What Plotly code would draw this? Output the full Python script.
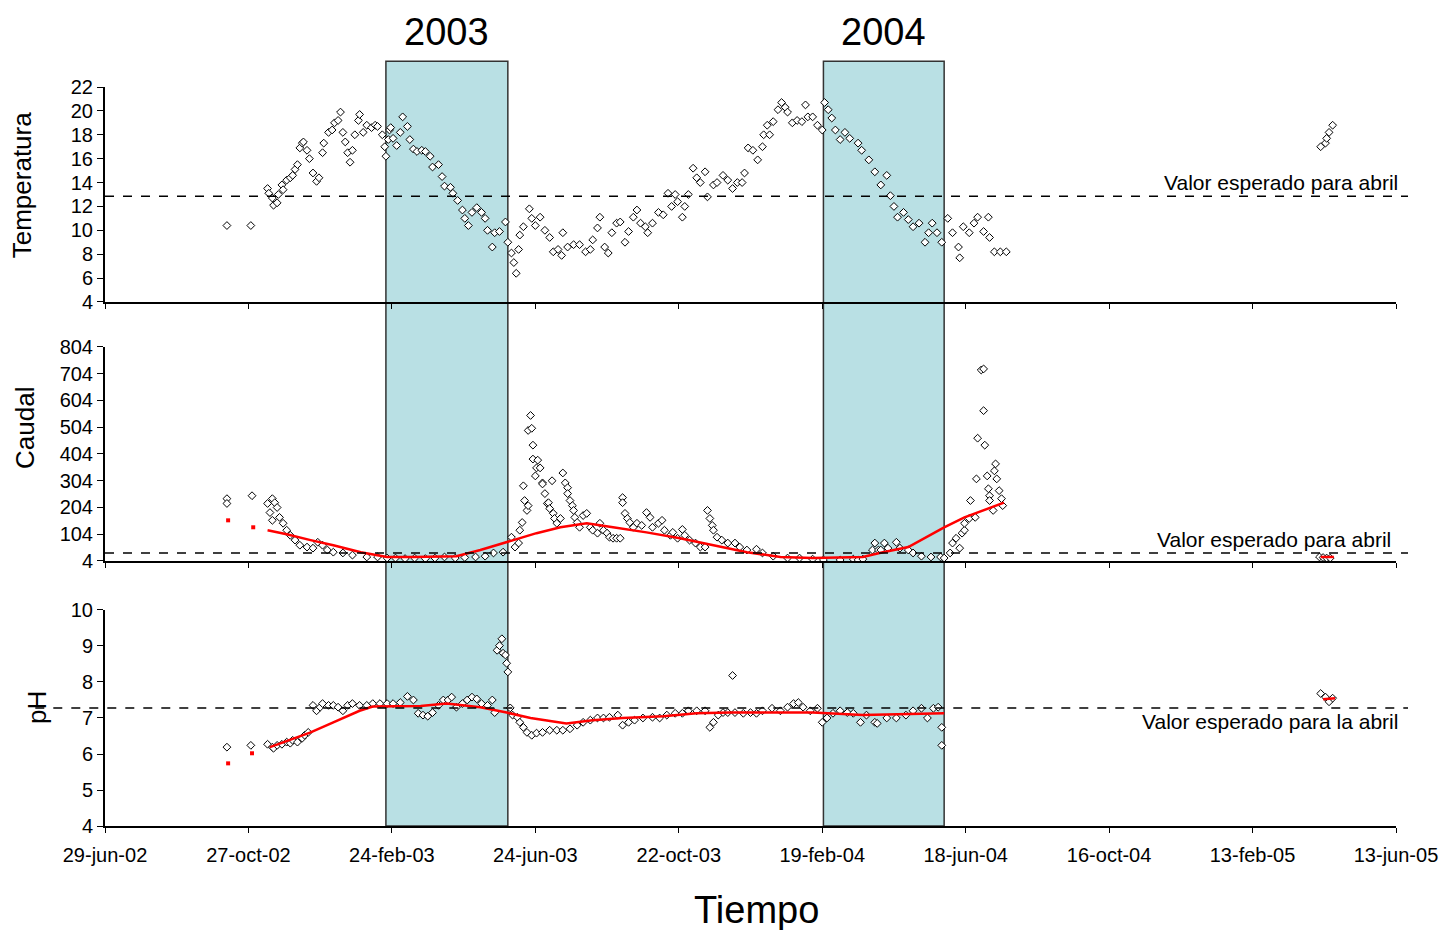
import pandas as pd
import plotly.graph_objects as go

# dates are stored as days after the first tick (29-jun-02)
BASE = "2002-06-29"

TICK_DATES = ["2002-06-29", "2002-10-27", "2003-02-24", "2003-06-24", "2003-10-22",
              "2004-02-19", "2004-06-18", "2004-10-16", "2005-02-13", "2005-06-13"]
TICK_LABELS = ["29-jun-02", "27-oct-02", "24-feb-03", "24-jun-03", "22-oct-03",
               "19-feb-04", "18-jun-04", "16-oct-04", "13-feb-05", "13-jun-05"]

# shaded April campaigns
BOXES = [("2003-02-19", "2003-06-01", "2003"), ("2004-02-20", "2004-05-31", "2004")]

# expected April values
TEMP_REF = 12.85
CAUDAL_REF = 34
PH_REF = 7.28

temp_days = [102, 122, 136, 137, 140, 141, 144, 145, 148, 149, 152, 155, 157, 159, 161, 163, 165, 166,
             169, 171, 174, 177, 179, 182, 183, 187, 190, 192, 195, 197, 199, 201, 203, 205, 207, 209,
             212, 213, 216, 219, 223, 226, 228, 232, 234, 235, 237, 238, 239, 241, 244, 247, 249, 253,
             255, 258, 261, 265, 268, 272, 274, 279, 282, 284, 289, 291, 295, 299, 301, 304, 307, 311,
             315, 318, 320, 324, 326, 330, 335, 337, 340, 342, 344, 346, 347, 350, 355, 357, 360, 364,
             368, 372, 375, 379, 382, 383, 387, 392, 397, 402, 406, 408, 412, 414, 418, 421, 424, 428,
             431, 435, 438, 442, 445, 448, 452, 454, 458, 463, 467, 471, 474, 477, 479, 483, 485, 488,
             492, 495, 498, 502, 504, 509, 512, 517, 521, 525, 529, 533, 535, 538, 542, 546, 550, 551,
             554, 556, 559, 563, 566, 569, 571, 575, 579, 583, 586, 588, 592, 596, 600, 602, 605, 608,
             611, 615, 619, 623, 630, 633, 639, 644, 649, 654, 657, 660, 663, 668, 672, 676, 681, 686,
             689, 692, 696, 700, 705, 709, 714, 715, 718, 723, 727, 730, 735, 739, 740, 744, 749, 754,
             1017, 1021, 1022, 1024, 1027]
temp_vals = [10.4, 10.4, 13.5, 13.1, 12.7, 12.1, 12.3, 13.0, 13.8, 13.4, 14.2, 14.4, 14.6, 15.1, 15.5,
             16.9, 17.3, 17.4, 16.7, 16.0, 14.8, 14.1, 14.4, 16.5, 17.3, 18.2, 18.4, 19.0, 19.2, 19.9,
             18.2, 17.4, 16.5, 15.7, 16.7, 18.0, 19.2, 19.7, 18.2, 18.8, 18.6, 18.8, 18.7, 18.0, 17.0,
             16.2, 17.6, 18.4, 18.6, 17.7, 17.1, 18.2, 19.5, 18.7, 17.6, 16.8, 16.6, 16.7, 16.6, 16.2,
             15.3, 15.5, 14.5, 13.7, 13.6, 13.1, 12.5, 11.7, 11.0, 10.4, 11.5, 11.9, 11.5, 11.0, 10.0,
             8.6, 9.8, 9.9, 10.7, 9.0, 8.1, 7.3, 6.4, 8.4, 9.6, 10.3, 11.8, 11.0, 10.4, 11.1, 10.0, 9.4,
             8.2, 8.4, 7.9, 9.8, 8.6, 8.8, 8.8, 8.2, 8.4, 9.2, 10.2, 11.1, 8.6, 8.1, 9.8, 10.6, 10.7,
             9.0, 9.9, 11.1, 11.7, 10.6, 10.3, 9.8, 10.6, 11.5, 11.3, 13.1, 12.0, 13.0, 12.4, 11.1,
             12.0, 13.0, 15.2, 14.4, 14.0, 14.9, 12.8, 13.8, 14.0, 14.6, 14.2, 13.5, 14.0, 14.0, 14.8,
             16.9, 16.7, 15.9, 17.0, 18.0, 18.8, 18.0, 19.1, 20.1, 20.7, 20.3, 19.9, 19.0, 19.2, 19.1,
             20.5, 19.5, 19.5, 18.8, 18.4, 20.7, 20.1, 19.4, 18.4, 17.6, 18.2, 17.7, 17.3, 16.7, 15.9,
             14.9, 13.8, 14.6, 12.9, 12.0, 11.1, 11.5, 10.9, 10.3, 10.6, 9.0, 9.8, 10.6, 9.8, 9.0, 11.0,
             9.8, 8.6, 7.7, 10.3, 9.8, 10.6, 11.1, 9.9, 11.1, 9.4, 8.2, 8.2, 8.2,
             17.0, 17.3, 17.7, 18.2, 18.8]

caudal_days = [102, 102, 123, 136, 140, 142, 138, 140, 144, 146, 149, 152, 155, 159, 163, 169, 174, 178,
               182, 186, 191, 199, 207, 219, 228, 236, 243, 251, 259, 268, 276, 284, 293, 301, 310, 318,
               325, 333, 340, 343, 346, 347, 349, 350, 351, 353, 354, 354, 356, 357, 358, 358, 360, 361,
               362, 364, 366, 366, 368, 370, 371, 372, 374, 375, 376, 378, 381, 383, 385, 387, 387, 389,
               391, 392, 393, 395, 397, 400, 403, 406, 408, 412, 414, 417, 420, 422, 425, 428, 431, 433,
               433, 435, 437, 439, 442, 445, 449, 453, 456, 458, 463, 466, 468, 473, 475, 479, 483, 485,
               489, 494, 498, 502, 504, 506, 508, 509, 512, 516, 521, 527, 531, 537, 545, 550, 559, 571,
               581, 592, 601, 615, 626, 630, 634, 642, 644, 647, 649, 652, 655, 662, 665, 672, 676, 683,
               691, 699, 702, 707, 709, 712, 715, 717, 719, 719, 723, 724, 728, 729, 730, 733, 735, 735,
               736, 738, 739, 740, 740, 743, 744, 745, 746, 748, 750, 751,
               1016, 1019, 1022, 1025]
caudal_vals = [237, 219, 248, 219, 237, 222, 185, 156, 204, 167, 145, 119, 100, 82, 63, 56, 52, 74,
               63, 45, 37, 34, 26, 19, 19, 15, 15, 13, 15, 13, 15, 19, 15, 17, 19, 22,
               34, 37, 93, 56, 71, 119, 148, 285, 230, 193, 211, 492, 548, 500, 437, 385, 322, 352,
               381, 352, 296, 292, 256, 219, 222, 200, 304, 182, 163, 145, 163, 333, 296, 278, 256, 230,
               211, 193, 167, 148, 130, 174, 182, 130, 119, 108, 145, 119, 108, 93, 89, 89, 89, 241,
               222, 182, 163, 148, 130, 145, 137, 185, 167, 130, 145, 156, 119, 100, 111, 89, 122, 100,
               82, 71, 56, 56, 193, 163, 137, 119, 93, 82, 71, 71, 56, 45, 48, 34, 22, 15,
               15, 11, 8, 8, 11, 8, 11, 45, 71, 45, 45, 71, 52, 74, 52, 45, 34, 22,
               19, 19, 15, 34, 71, 89, 52, 108, 119, 145, 163, 230, 167, 311, 463, 718, 722, 566,
               437, 322, 274, 248, 230, 193, 341, 367, 311, 267, 237, 211,
               19, 17, 15, 15]

# red smoothed flow curve
caudal_fit_days = [136, 152, 172, 191, 214, 236, 258, 294, 314, 336, 361, 381, 403, 425, 453, 481,
                   509, 537, 565, 592, 634, 648, 672, 702, 719, 752]
caudal_fit_vals = [119, 104, 82, 63, 37, 19, 19, 22, 45, 74, 108, 130, 145, 130, 111, 89,
                   63, 37, 19, 15, 19, 34, 56, 130, 167, 222]
caudal_fit_dot_days = [103, 124]
caudal_fit_dot_vals = [156, 130]
caudal_fit_late_days = [1017, 1028]
caudal_fit_late_vals = [19, 19]

ph_days = [102, 122, 136, 140, 141, 144, 148, 152, 155, 157, 161, 165, 167, 170, 174, 177, 180, 182,
           187, 191, 195, 199, 203, 207, 213, 219, 224, 230, 236, 241, 247, 253, 258, 262, 266, 270,
           274, 279, 283, 287, 290, 294, 299, 303, 307, 311, 315, 320, 324, 326, 328, 330, 332, 333,
           335, 336, 337, 339, 341, 345, 347, 350, 353, 357, 361, 366, 372, 378, 383, 389, 395, 400,
           406, 412, 417, 422, 429, 433, 438, 443, 450, 458, 464, 470, 477, 483, 488, 495, 502, 506,
           509, 513, 517, 521, 525, 527, 534, 540, 545, 550, 558, 565, 571, 576, 580, 584, 590, 596,
           600, 604, 609, 615, 621, 626, 632, 637, 644, 646, 654, 662, 670, 676, 683, 688, 693, 697,
           700, 700, 1017, 1021, 1024, 1027]
ph_vals = [6.19, 6.24, 6.27, 6.19, 6.16, 6.24, 6.27, 6.33, 6.30, 6.38, 6.33, 6.44, 6.52, 6.60, 7.35,
           7.20, 7.30, 7.40, 7.35, 7.35, 7.30, 7.20, 7.35, 7.40, 7.35, 7.35, 7.40, 7.40, 7.40, 7.40,
           7.43, 7.60, 7.50, 7.13, 7.08, 7.05, 7.15, 7.35, 7.50, 7.50, 7.58, 7.30, 7.40, 7.50, 7.58,
           7.53, 7.40, 7.35, 7.50, 7.15, 8.88, 9.01, 9.20, 8.80, 8.75, 8.52, 8.28, 7.28, 7.08, 7.02,
           6.88, 6.74, 6.60, 6.52, 6.58, 6.60, 6.66, 6.66, 6.66, 6.70, 6.80, 6.88, 6.94, 7.00, 7.00,
           7.02, 7.08, 6.80, 6.88, 6.94, 7.00, 7.02, 7.00, 7.08, 7.13, 7.13, 7.20, 7.20, 7.20, 6.74,
           6.88, 7.08, 7.15, 7.15, 8.18, 7.15, 7.13, 7.15, 7.13, 7.20, 7.27, 7.20, 7.30, 7.40, 7.43,
           7.30, 7.20, 7.27, 6.88, 7.00, 7.13, 7.20, 7.15, 7.13, 6.88, 7.08, 6.88, 6.85, 7.00, 7.00,
           7.08, 7.20, 7.27, 7.00, 7.27, 7.30, 6.74, 6.24, 7.68, 7.58, 7.45, 7.55]

# red smoothed pH curve
ph_fit_days = [138, 172, 191, 213, 224, 264, 286, 314, 336, 356, 386, 408, 433, 467, 495, 523, 592,
               634, 702]
ph_fit_vals = [6.19, 6.60, 6.88, 7.20, 7.32, 7.33, 7.40, 7.30, 7.15, 7.00, 6.85, 6.94, 7.00, 7.05,
               7.13, 7.15, 7.15, 7.08, 7.13]
ph_fit_dot_days = [103, 123]
ph_fit_dot_vals = [5.74, 6.02]
ph_fit_late_days = [1019, 1029]
ph_fit_late_vals = [7.52, 7.55]


def to_dates(days):
    return pd.Timestamp(BASE) + pd.to_timedelta(days, unit="D")


FONT = "Liberation Sans, Arial, sans-serif"
marker = dict(symbol="diamond", size=6, color="white", line=dict(color="black", width=1))

fig = go.Figure()

panels = [("x", "y", temp_days, temp_vals),
          ("x2", "y2", caudal_days, caudal_vals),
          ("x3", "y3", ph_days, ph_vals)]
for xa, ya, d, v in panels:
    fig.add_trace(go.Scatter(x=to_dates(d), y=v, xaxis=xa, yaxis=ya, mode="markers",
                             marker=marker, hoverinfo="skip"))

red_line = dict(color="#FF0000", width=2.5)
red_dot = dict(color="#FF0000", size=4, symbol="square")
for xa, ya, d, v in [("x2", "y2", caudal_fit_days, caudal_fit_vals),
                     ("x2", "y2", caudal_fit_late_days, caudal_fit_late_vals),
                     ("x3", "y3", ph_fit_days, ph_fit_vals),
                     ("x3", "y3", ph_fit_late_days, ph_fit_late_vals)]:
    fig.add_trace(go.Scatter(x=to_dates(d), y=v, xaxis=xa, yaxis=ya, mode="lines",
                             line=red_line, hoverinfo="skip"))
for xa, ya, d, v in [("x2", "y2", caudal_fit_dot_days, caudal_fit_dot_vals),
                     ("x3", "y3", ph_fit_dot_days, ph_fit_dot_vals)]:
    fig.add_trace(go.Scatter(x=to_dates(d), y=v, xaxis=xa, yaxis=ya, mode="markers",
                             marker=red_dot, hoverinfo="skip"))

x_range = [TICK_DATES[0], TICK_DATES[-1]]
xcommon = dict(type="date", range=x_range, tickvals=TICK_DATES, ticktext=TICK_LABELS,
               showline=True, linecolor="black", linewidth=2, ticks="outside", ticklen=5,
               tickcolor="black", showgrid=False, zeroline=False, ticklabelstandoff=5,
               tickfont=dict(family=FONT, size=20, color="black"))
ycommon = dict(showline=True, linecolor="black", linewidth=2, ticks="outside", ticklen=6,
               tickcolor="black", showgrid=False, zeroline=False,
               tickfont=dict(family=FONT, size=20, color="black"))

shapes = []
annotations = []
for x0, x1, label in BOXES:
    shapes.append(dict(type="rect", xref="x3", yref="paper", x0=x0, x1=x1, y0=0, y1=1.035,
                       fillcolor="#B9E0E4", line=dict(color="#333333", width=1.5), layer="below"))
    annotations.append(dict(x=pd.Timestamp(x0) + (pd.Timestamp(x1) - pd.Timestamp(x0)) / 2,
                            xref="x3", y=1.074, yref="paper", text=label, showarrow=False,
                            xanchor="center", yanchor="middle",
                            font=dict(family=FONT, size=38, color="black")))

for ya, ref, x0 in [("y", TEMP_REF, 0), ("y2", CAUDAL_REF, 0), ("y3", PH_REF, -0.054)]:
    shapes.append(dict(type="line", xref="paper", yref=ya, x0=x0, x1=1.0093, y0=ref, y1=ref,
                       line=dict(color="black", width=1.5, dash="dash")))

label_font = dict(family=FONT, size=21, color="black")
annotations += [
    dict(x=1.0031, xref="paper", y=TEMP_REF, yref="y", text="Valor esperado para abril",
         xanchor="right", yanchor="bottom", showarrow=False, font=label_font),
    dict(x=0.9977, xref="paper", y=CAUDAL_REF, yref="y2", text="Valor esperado para abril",
         xanchor="right", yanchor="bottom", showarrow=False, font=label_font),
    dict(x=1.0031, xref="paper", y=PH_REF, yref="y3", text="Valor esperado para la abril",
         xanchor="right", yanchor="top", showarrow=False, font=label_font),
]

title_font = dict(family=FONT, size=26, color="black")
for text, x, y in [("Temperatura", -0.0643, 0.867), ("Caudal", -0.062, 0.5386), ("pH", -0.0527, 0.161)]:
    annotations.append(dict(x=x, y=y, xref="paper", yref="paper", text=text, textangle=-90,
                            xanchor="center", yanchor="middle", showarrow=False, font=title_font))
annotations.append(dict(x=0.505, y=-0.1137, xref="paper", yref="paper", text="Tiempo",
                        xanchor="center", yanchor="middle", showarrow=False,
                        font=dict(family=FONT, size=38, color="black")))

# the page body adds an 8 px margin, so the figure is 8 px smaller and shifted margins
fig.update_layout(
    width=1446, height=922,
    margin=dict(l=97, r=58, t=79, b=104),
    paper_bgcolor="white", plot_bgcolor="rgba(0,0,0,0)",
    showlegend=False,
    xaxis=dict(xcommon, anchor="y", showticklabels=False),
    xaxis2=dict(xcommon, anchor="y2", matches="x", showticklabels=False),
    xaxis3=dict(xcommon, anchor="y3", matches="x"),
    yaxis=dict(ycommon, domain=[0.7091, 1.0], range=[4, 22], dtick=2, anchor="x"),
    yaxis2=dict(ycommon, domain=[0.3586, 0.6482], range=[4, 804], tick0=4, dtick=100, anchor="x2"),
    yaxis3=dict(ycommon, domain=[0.0, 0.2923], range=[4, 10], dtick=1, anchor="x3"),
    shapes=shapes,
    annotations=annotations,
)

fig.write_html("out.html")
